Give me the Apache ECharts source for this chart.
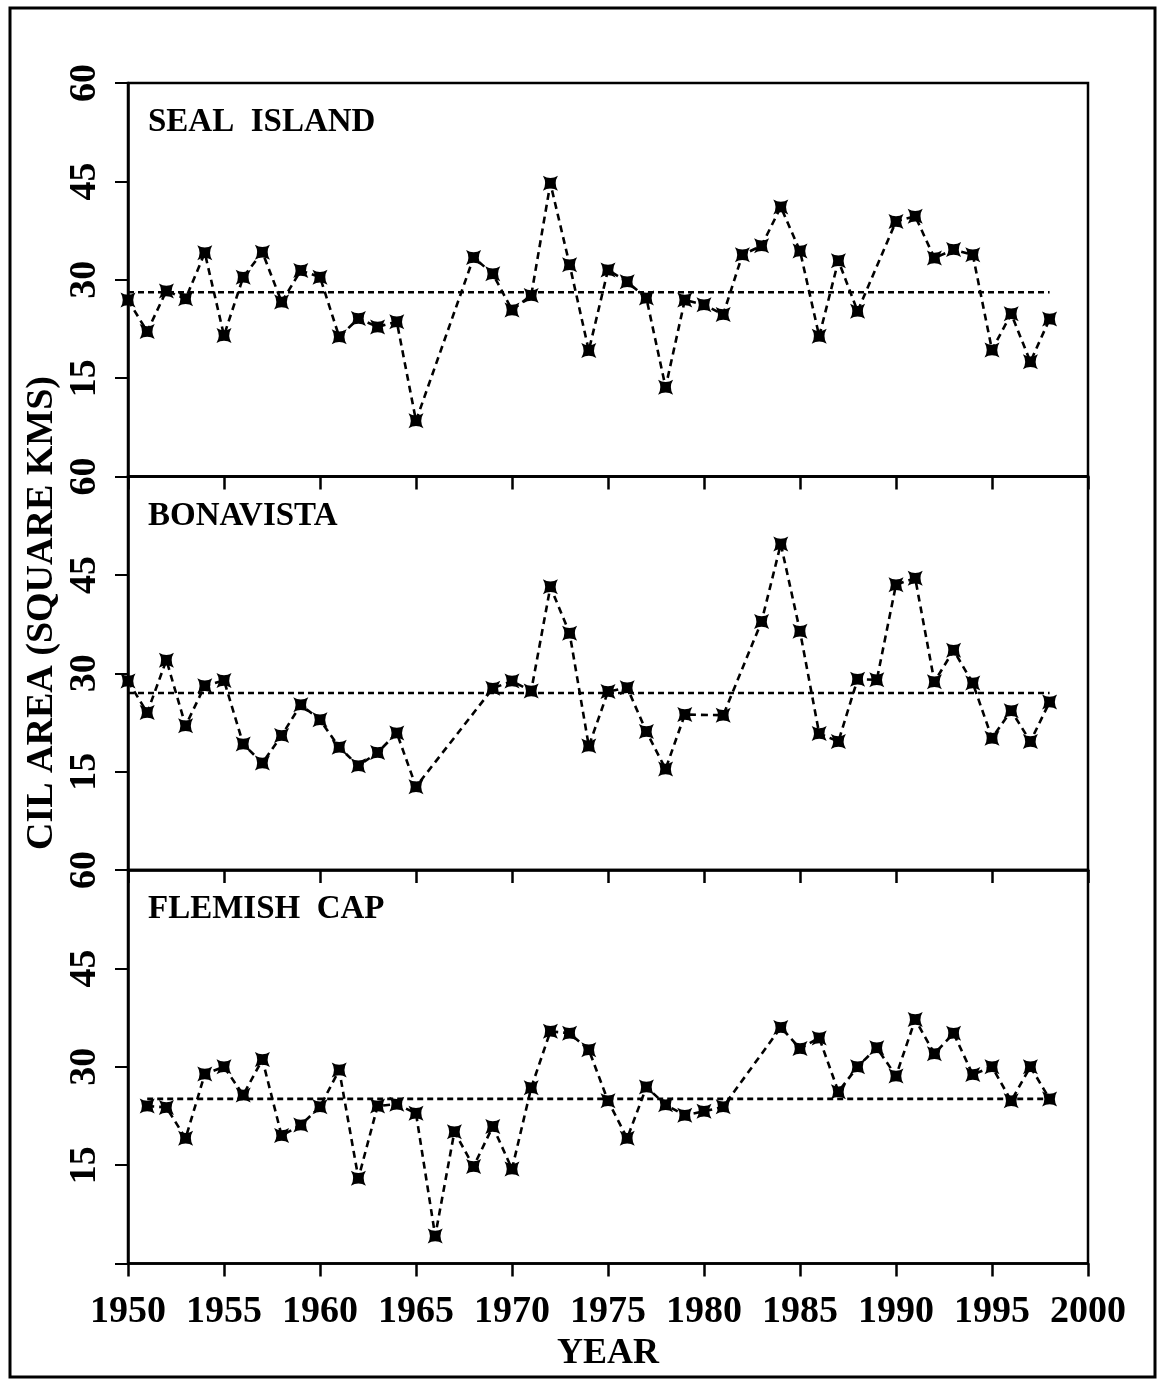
<!DOCTYPE html>
<html>
<head>
<meta charset="utf-8">
<script src="https://cdn.jsdelivr.net/npm/echarts@6/dist/echarts.min.js"></script>
<style>
  html, body { margin: 0; padding: 0; background: #fff; }
  #chart { width: 1161px; height: 1383px; }
</style>
</head>
<body>
<div id="chart"></div>
<script>
// years 1950 - 1998, null = no survey that year
var years = [];
for (var y = 1950; y <= 1998; y++) years.push(y);

var sealValues = [
    26.9, 22.1, 28.3, 27.1, 34.1, 21.5, 30.4, 34.2, 26.6, 31.4,
    30.4, 21.3, 24.1, 22.8, 23.6, 8.5, null, null, 33.4, 30.9,
    25.4, 27.6, 44.7, 32.3, 19.2, 31.5, 29.7, 27.2, 13.6, 26.9,
    26.2, 24.7, 33.8, 35.2, 41.1, 34.4, 21.4, 32.9, 25.2, null,
    38.9, 39.7, 33.3, 34.6, 33.8, 19.3, 24.8, 17.5, 24.0
];
var bonaValues = [
    28.8, 24.0, 32.0, 22.0, 28.1, 28.9, 19.2, 16.3, 20.5, 25.2,
    22.9, 18.7, 15.9, 17.9, 20.9, 12.7, null, null, null, 27.7,
    28.8, 27.3, 43.2, 36.1, 18.9, 27.2, 27.8, 21.1, 15.4, 23.7,
    null, 23.6, null, 37.9, 49.7, 36.4, 20.8, 19.6, 29.1, 29.0,
    43.5, 44.5, 28.7, 33.5, 28.5, 20.1, 24.3, 19.6, 25.6
];
var flemValues = [
    null, 24.0, 23.8, 19.1, 28.9, 30.0, 25.7, 31.1, 19.5, 21.1,
    23.9, 29.5, 13.0, 24.0, 24.3, 22.9, 4.2, 20.1, 14.8, 20.9,
    14.4, 26.8, 35.4, 35.1, 32.6, 24.8, 19.1, 26.9, 24.2, 22.6,
    23.2, 23.9, null, null, 36.0, 32.8, 34.4, 26.2, 30.0, 32.9,
    28.6, 37.2, 32.0, 35.1, 28.8, 30.0, 24.8, 30.0, 25.1
];

var panelNames = ['SEAL  ISLAND', 'BONAVISTA', 'FLEMISH  CAP'];
var panelMeans = [28.1, 27.0, 25.1];
var meanStart = [1950, 1950, 1951];
var meanEnd = 1998;
var yTicks = [0, 15, 30, 45, 60];
var xTicks = [1950, 1955, 1960, 1965, 1970, 1975, 1980, 1985, 1990, 1995, 2000];

var allValues = [sealValues, bonaValues, flemValues];

var FONT = '"Liberation Serif", "DejaVu Serif", serif';
var starPath = 'path://M0,0 Q5,3 10,0 Q7,5 10,10 Q5,7 0,10 Q3,5 0,0 Z';

var chart = echarts.init(document.getElementById('chart'));

var tops = [83, 476.5, 870];
var grids = [], xAxes = [], yAxes = [], series = [], graphics = [];

for (var i = 0; i < 3; i++) {
    grids.push({
        left: 128, width: 960, top: tops[i], height: 393.5,
        show: true, borderColor: '#000', borderWidth: 2.5, backgroundColor: 'transparent'
    });
    xAxes.push({
        gridIndex: i, type: 'value',
        min: xTicks[0], max: xTicks[xTicks.length - 1], interval: 5,
        axisLine: { show: true, lineStyle: { color: '#000', width: 2.5 } },
        axisTick: { show: true, inside: false, length: 13, lineStyle: { color: '#000', width: 2.5 } },
        axisLabel: {
            show: i === 2, margin: 30,
            fontFamily: FONT, fontWeight: 'bold', fontSize: 38, color: '#000',
            formatter: function (v) { return String(v); }
        },
        splitLine: { show: false },
        name: i === 2 ? 'YEAR' : '', nameLocation: 'middle', nameGap: 72,
        nameTextStyle: { fontFamily: FONT, fontWeight: 'bold', fontSize: 36, color: '#000' }
    });
    yAxes.push({
        gridIndex: i, type: 'value',
        min: yTicks[0], max: yTicks[yTicks.length - 1], interval: 15,
        axisLine: { show: true, lineStyle: { color: '#000', width: 2.5 } },
        axisTick: { show: true, inside: false, length: 13, lineStyle: { color: '#000', width: 2 } },
        axisLabel: {
            rotate: 90, margin: 24,
            fontFamily: FONT, fontWeight: 'bold', fontSize: 38, color: '#000',
            formatter: function (v) { return v === 0 ? '' : String(v); }
        },
        splitLine: { show: false }
    });

    var pts = [];
    for (var k = 0; k < years.length; k++) {
        pts.push([years[k], allValues[i][k]]);
    }
    series.push({
        type: 'line', xAxisIndex: i, yAxisIndex: i,
        data: pts, connectNulls: true,
        symbol: starPath, symbolSize: 15, showAllSymbol: true,
        itemStyle: { color: '#000' },
        lineStyle: { color: '#000', width: 2.6, type: [7, 5] },
        animation: false, silent: true
    });
    series.push({
        type: 'line', xAxisIndex: i, yAxisIndex: i,
        data: [[meanStart[i], panelMeans[i]], [meanEnd, panelMeans[i]]],
        symbol: 'none',
        lineStyle: { color: '#000', width: 2.6, type: [6, 4] },
        animation: false, silent: true
    });

    graphics.push({
        type: 'text', left: 148, top: tops[i] + 23,
        style: { text: panelNames[i], fontFamily: FONT, fontWeight: 'bold', fontSize: 33, fill: '#000' }
    });
}

// y axis title (rotated)
graphics.push({
    type: 'text', x: 42, y: 613, rotation: Math.PI / 2,
    style: {
        text: 'CIL AREA (SQUARE KMS)', fontFamily: FONT, fontWeight: 'bold', fontSize: 38,
        fill: '#000', align: 'center', verticalAlign: 'middle'
    }
});
// outer frame
graphics.push({
    type: 'rect', shape: { x: 10, y: 8, width: 1145, height: 1369 },
    style: { fill: 'none', stroke: '#000', lineWidth: 3 }
});

chart.setOption({
    animation: false,
    backgroundColor: '#fff',
    grid: grids,
    xAxis: xAxes,
    yAxis: yAxes,
    series: series,
    graphic: graphics
});
</script>
</body>
</html>
